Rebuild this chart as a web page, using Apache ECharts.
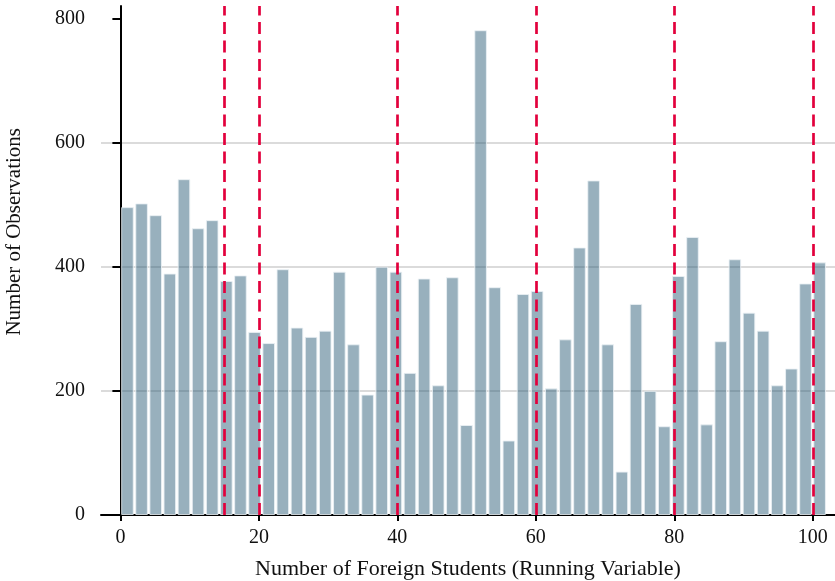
<!DOCTYPE html>
<html>
<head>
<meta charset="utf-8">
<script src="https://cdn.jsdelivr.net/npm/echarts@6/dist/echarts.min.js"></script>
<style>
  html, body { margin: 0; padding: 0; background: #fff; }
  #main { width: 835px; height: 581px; }
</style>
</head>
<body>
<div id="main"></div>
<script>
// bin centres (50 bins of width 2.04 over 0..102)
var binCenters = [1.02, 3.06, 5.10, 7.14, 9.18, 11.22, 13.26, 15.30, 17.34, 19.38,
  21.42, 23.46, 25.50, 27.54, 29.58, 31.62, 33.66, 35.70, 37.74, 39.78,
  41.82, 43.86, 45.90, 47.94, 49.98, 52.02, 54.06, 56.10, 58.14, 60.18,
  62.22, 64.26, 66.30, 68.34, 70.38, 72.42, 74.46, 76.50, 78.54, 80.58,
  82.62, 84.66, 86.70, 88.74, 90.78, 92.82, 94.86, 96.90, 98.94, 100.98];
var counts = [496, 502, 483, 389, 541, 462, 475, 377, 386, 295,
  277, 396, 302, 287, 297, 392, 275, 194, 400, 392,
  229, 381, 209, 383, 145, 781, 367, 120, 356, 361,
  204, 283, 431, 539, 275, 70, 340, 200, 143, 385,
  448, 146, 280, 412, 326, 297, 209, 236, 373, 407];
var cutoffs = [15, 20, 40, 60, 80, 100];
var xTicks = [0, 20, 40, 60, 80, 100];
var yTicks = [0, 200, 400, 600, 800];

var font = 'Liberation Serif';
var chart = echarts.init(document.getElementById('main'));

var barData = binCenters.map(function (x, i) { return [x, counts[i]]; });

var option = {
  animation: false,
  grid: { left: 101, right: 0, top: 6, bottom: 66, containLabel: false, outerBoundsMode: 'none' },
  xAxis: {
    type: 'value',
    min: -2.8,
    max: 103.2,
    name: 'Number of Foreign Students (Running Variable)',
    nameLocation: 'middle',
    nameGap: 43,
    nameTextStyle: { fontFamily: font, fontSize: 22, color: '#111' },
    axisLine: { onZero: false, lineStyle: { color: '#000', width: 2 } },
    axisTick: { show: true, length: 6, lineStyle: { color: '#000', width: 2 }, customValues: xTicks },
    axisLabel: { fontFamily: font, fontSize: 20, color: '#111', margin: 13, customValues: xTicks },
    splitLine: { show: false }
  },
  yAxis: {
    type: 'value',
    min: 0,
    max: 820,
    interval: 200,
    axisLine: { show: true, lineStyle: { color: '#000', width: 2 } },
    axisTick: { show: true, length: 8, lineStyle: { color: '#000', width: 2 }, customValues: yTicks },
    axisLabel: { fontFamily: font, fontSize: 20, color: '#111', margin: 16, customValues: yTicks },
    splitLine: { show: true, showMinLine: false, showMaxLine: false, lineStyle: { color: '#cfcfcf', width: 1.5 } }
  },
  graphic: [{
    type: 'text',
    left: 4,
    top: 128,
    rotation: Math.PI / 2,
    style: {
      text: 'Number of Observations',
      font: '21px "Liberation Serif"',
      fill: '#111'
    }
  }],
  series: [
    {
      // cutoff lines, drawn under the bars
      type: 'line',
      data: [],
      z: 1,
      markLine: {
        silent: true,
        symbol: 'none',
        label: { show: false },
        lineStyle: { color: '#e2003c', width: 2.7, type: [12, 6.5] },
        data: cutoffs.map(function (c) { return { xAxis: c }; })
      }
    },
    {
      type: 'bar',
      data: barData,
      barWidth: 12.6,
      z: 3,
      itemStyle: {
        color: 'rgba(37,88,115,0.47)',
        borderColor: 'rgba(235,241,245,0.85)',
        borderWidth: 1
      }
    }
  ]
};

chart.setOption(option);
window.addEventListener('resize', chart.resize);
</script>
</body>
</html>
